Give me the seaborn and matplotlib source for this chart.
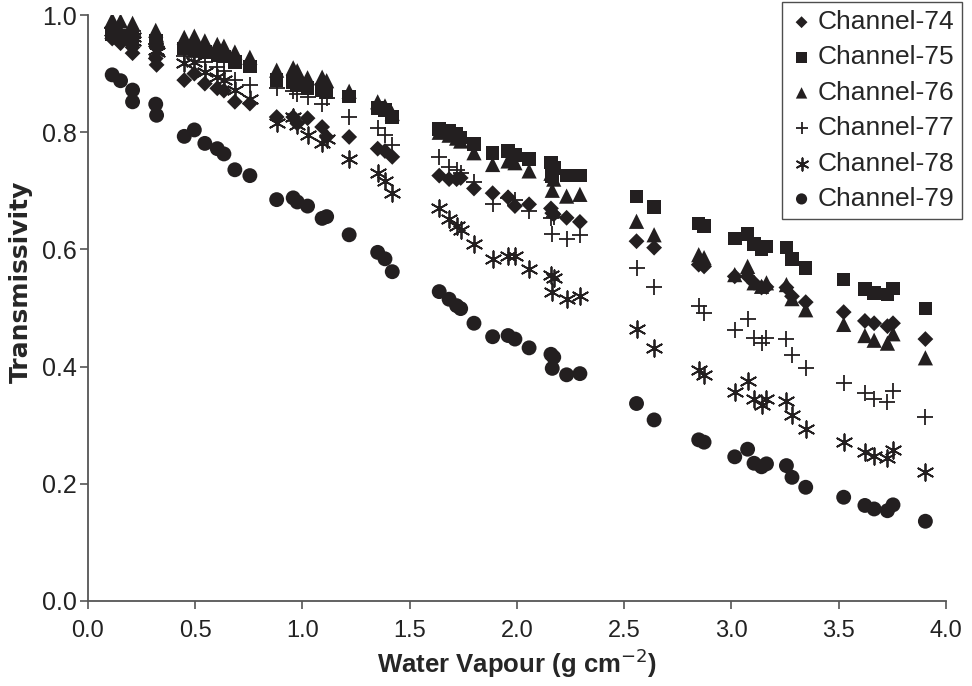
import matplotlib
matplotlib.use("Agg")
import matplotlib.pyplot as plt
import numpy as np
import pandas as pd
import seaborn as sns

# water vapour (g cm-2), shared by all channels
water_vapour = [0.113, 0.152, 0.208, 0.208, 0.316, 0.320, 0.449, 0.496, 0.545, 0.603,
                0.634, 0.685, 0.755, 0.880, 0.957, 0.976, 1.024, 1.092, 1.113, 1.218,
                1.351, 1.385, 1.419, 1.638, 1.684, 1.719, 1.738, 1.800, 1.887, 1.959,
                1.991, 2.057, 2.159, 2.172, 2.165, 2.232, 2.294, 2.558, 2.640, 2.848,
                2.873, 3.016, 3.076, 3.106, 3.141, 3.164, 3.257, 3.283, 3.347, 3.524,
                3.623, 3.666, 3.728, 3.754, 3.905]

ch74 = [0.960, 0.952, 0.945, 0.935, 0.926, 0.915, 0.889, 0.900, 0.883, 0.875,
        0.871, 0.852, 0.849, 0.826, 0.826, 0.815, 0.824, 0.809, 0.792, 0.792,
        0.772, 0.768, 0.758, 0.726, 0.720, 0.720, 0.722, 0.704, 0.696, 0.689,
        0.674, 0.677, 0.670, 0.660, 0.662, 0.654, 0.647, 0.614, 0.603, 0.574,
        0.571, 0.554, 0.554, 0.543, 0.535, 0.536, 0.535, 0.520, 0.510, 0.493,
        0.478, 0.474, 0.469, 0.474, 0.447]
ch75 = [0.968, 0.965, 0.962, 0.955, 0.957, 0.952, 0.943, 0.940, 0.937, 0.932,
        0.929, 0.920, 0.912, 0.889, 0.886, 0.881, 0.876, 0.872, 0.868, 0.861,
        0.841, 0.838, 0.826, 0.806, 0.802, 0.797, 0.791, 0.780, 0.765, 0.768,
        0.761, 0.754, 0.748, 0.739, 0.725, 0.726, 0.726, 0.690, 0.672, 0.644,
        0.640, 0.619, 0.626, 0.609, 0.600, 0.605, 0.603, 0.584, 0.568, 0.549,
        0.532, 0.526, 0.523, 0.533, 0.499]
ch76 = [0.992, 0.990, 0.986, 0.975, 0.974, 0.966, 0.962, 0.964, 0.956, 0.950,
        0.947, 0.937, 0.928, 0.906, 0.910, 0.905, 0.893, 0.894, 0.888, 0.870,
        0.852, 0.845, 0.832, 0.800, 0.795, 0.790, 0.785, 0.765, 0.745, 0.751,
        0.748, 0.734, 0.730, 0.720, 0.701, 0.691, 0.694, 0.648, 0.625, 0.591,
        0.586, 0.557, 0.571, 0.543, 0.537, 0.543, 0.540, 0.516, 0.497, 0.472,
        0.453, 0.445, 0.440, 0.456, 0.415]
ch77 = [0.978, 0.975, 0.972, 0.965, 0.950, 0.945, 0.930, 0.928, 0.920, 0.912,
        0.905, 0.890, 0.880, 0.875, 0.870, 0.865, 0.861, 0.848, 0.858, 0.826,
        0.808, 0.795, 0.778, 0.758, 0.741, 0.735, 0.730, 0.715, 0.677, 0.688,
        0.684, 0.666, 0.654, 0.655, 0.626, 0.618, 0.624, 0.569, 0.536, 0.503,
        0.492, 0.462, 0.482, 0.449, 0.441, 0.449, 0.447, 0.420, 0.397, 0.372,
        0.355, 0.344, 0.340, 0.358, 0.314]
ch78 = [0.972, 0.968, 0.962, 0.955, 0.940, 0.937, 0.918, 0.920, 0.903, 0.895,
        0.889, 0.872, 0.856, 0.815, 0.826, 0.812, 0.795, 0.781, 0.788, 0.755,
        0.730, 0.716, 0.696, 0.670, 0.652, 0.640, 0.634, 0.610, 0.584, 0.589,
        0.589, 0.567, 0.557, 0.551, 0.527, 0.516, 0.520, 0.464, 0.431, 0.395,
        0.386, 0.356, 0.376, 0.344, 0.335, 0.345, 0.342, 0.317, 0.294, 0.272,
        0.255, 0.247, 0.244, 0.258, 0.220]
ch79 = [0.898, 0.888, 0.872, 0.852, 0.848, 0.829, 0.793, 0.804, 0.781, 0.772,
        0.763, 0.736, 0.726, 0.685, 0.688, 0.681, 0.674, 0.653, 0.656, 0.625,
        0.595, 0.584, 0.562, 0.528, 0.515, 0.504, 0.499, 0.474, 0.451, 0.453,
        0.447, 0.432, 0.421, 0.416, 0.397, 0.386, 0.388, 0.337, 0.309, 0.275,
        0.271, 0.246, 0.259, 0.235, 0.229, 0.234, 0.231, 0.211, 0.194, 0.177,
        0.163, 0.157, 0.154, 0.164, 0.136]

channels = ["Channel-74", "Channel-75", "Channel-76", "Channel-77", "Channel-78", "Channel-79"]
series = [ch74, ch75, ch76, ch77, ch78, ch79]

rows = []
for name, vals in zip(channels, series):
    for wv, t in zip(water_vapour, vals):
        rows.append({"wv": wv, "t": t, "channel": name})
df = pd.DataFrame(rows)

sns.set_style("ticks")
plt.rcParams['font.family'] = ['Liberation Sans', 'DejaVu Sans']

ink = "#231f20"
styles = {
    "Channel-74": dict(marker="D", s=65),
    "Channel-75": dict(marker="s", s=95),
    "Channel-76": dict(marker="^", s=120),
    "Channel-77": dict(marker="+", s=120, linewidth=1.3),
    "Channel-78": dict(marker=(6, 2, 0), s=140, linewidth=1.3),
    "Channel-79": dict(marker="o", s=115),
}

fig = plt.figure(figsize=(9.72, 6.86), dpi=100)
ax = fig.add_axes([0.0905, 0.124, 0.8825, 0.854])

for name in channels:
    sub = df[df["channel"] == name]
    kw = dict(styles[name])
    if kw["marker"] == "+" or isinstance(kw["marker"], tuple):
        sns.scatterplot(data=sub, x="wv", y="t", color=ink, ax=ax, label=name, **kw)
    else:
        sns.scatterplot(data=sub, x="wv", y="t", color=ink, edgecolor="none", ax=ax, label=name, **kw)

ax.set_xlim(0, 4.0)
ax.set_ylim(0, 1.0)
ax.set_xticks(np.arange(0, 4.01, 0.5))
ax.set_yticks(np.arange(0, 1.01, 0.2))
ax.xaxis.set_major_formatter(matplotlib.ticker.FormatStrFormatter("%.1f"))
ax.yaxis.set_major_formatter(matplotlib.ticker.FormatStrFormatter("%.1f"))
ax.tick_params(axis="y", labelsize=18, length=6, width=1.2, color="#555555", colors="#222222", pad=2)
ax.tick_params(axis="x", labelsize=17, length=6, width=1.2, color="#555555", colors="#222222", pad=8)
for sp in ["top", "right"]:
    ax.spines[sp].set_visible(False)
for sp in ["left", "bottom"]:
    ax.spines[sp].set_color("#555555")
    ax.spines[sp].set_linewidth(1.3)

ax.set_xlabel("Water Vapour (g cm$^{-2}$)", fontsize=18.5, fontweight="bold", labelpad=3)
ax.set_ylabel("Transmissivity", fontsize=18, fontweight="bold", family=["DejaVu Sans"])
ax.yaxis.set_label_coords(-0.064, 0.545)

leg = ax.legend(loc="upper right", bbox_to_anchor=(1.019, 1.022), fontsize=19,
                frameon=True, fancybox=False, edgecolor="#222222", markerscale=0.75,
                handletextpad=0.15, handlelength=0.9, labelspacing=0.43, borderpad=0.3,
                borderaxespad=0)
leg.get_frame().set_linewidth(1.0)

fig.savefig("out.png", dpi=100)
